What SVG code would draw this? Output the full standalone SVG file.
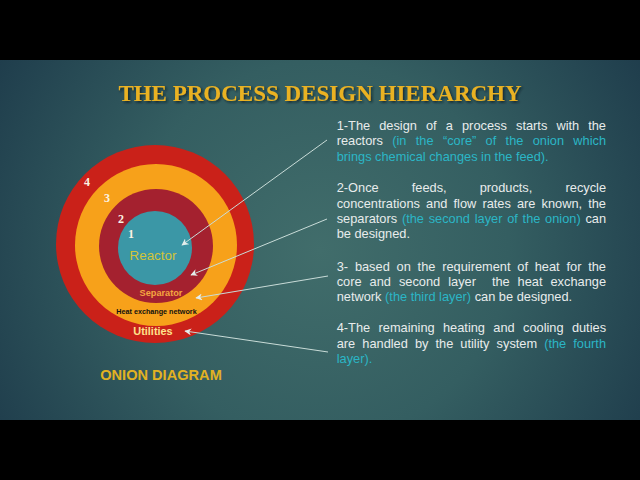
<svg xmlns="http://www.w3.org/2000/svg" width="640" height="480" viewBox="0 0 640 480">
<defs>
<radialGradient id="bg" gradientUnits="userSpaceOnUse" cx="320" cy="250" r="420">
<stop offset="0" stop-color="#416d6b"/>
<stop offset="0.45" stop-color="#345e61"/>
<stop offset="1" stop-color="#1a3547"/>
</radialGradient>
<filter id="sh" x="-5%" y="-20%" width="110%" height="150%">
<feDropShadow dx="1.5" dy="1.5" stdDeviation="0.8" flood-color="#0a1a20" flood-opacity="0.8"/>
</filter>
<marker id="ah" viewBox="0 0 10 10" refX="9" refY="5" markerWidth="7" markerHeight="7" orient="auto" markerUnits="userSpaceOnUse">
<path d="M0,0 L10,5 L0,10 L3,5 Z" fill="#e4eeec"/>
</marker>
</defs>
<style>
.t{font-family:"Liberation Sans",Arial,sans-serif;font-size:12.8px;fill:#e8ecec}
.c{fill:#2bb6c6}
.num{font-family:"Liberation Serif","Times New Roman",serif;font-weight:bold;font-size:12px;fill:#fbf3e4}
.conn{stroke:#c9dcd8;stroke-width:1;fill:none;marker-end:url(#ah)}
</style>
<rect x="0" y="0" width="640" height="480" fill="#000"/>
<rect x="0" y="60" width="640" height="360" fill="url(#bg)"/>

<text x="320" y="101" text-anchor="middle" font-family="Liberation Serif,'Times New Roman',serif" font-weight="bold" font-size="23" fill="#eab224" filter="url(#sh)">THE PROCESS DESIGN HIERARCHY</text>

<g id="onion">
<g id="layer4"><circle cx="155" cy="244" r="99" fill="#ca2119"/></g>
<g id="layer3"><circle cx="156" cy="245" r="81" fill="#f7a11a"/></g>
<g id="layer2"><circle cx="156" cy="246" r="57" fill="#a4212f"/></g>
<g id="layer1"><circle cx="155" cy="248" r="37" fill="#3b97a6"/></g>
<text class="num" x="87" y="185.5" text-anchor="middle">4</text>
<text class="num" x="107" y="202" text-anchor="middle">3</text>
<text class="num" x="121" y="223" text-anchor="middle">2</text>
<text class="num" x="131" y="238" text-anchor="middle">1</text>
<text x="153" y="259.5" text-anchor="middle" font-family="Liberation Sans,Arial,sans-serif" font-size="13.4" fill="#d2c43a">Reactor</text>
<text x="161" y="296" text-anchor="middle" font-family="Liberation Sans,Arial,sans-serif" font-weight="bold" font-size="9.2" fill="#f4a640">Separator</text>
<text x="156.5" y="313.5" text-anchor="middle" font-family="Liberation Sans,Arial,sans-serif" font-weight="bold" font-size="7.2" fill="#111">Heat exchange network</text>
<text x="153" y="335" text-anchor="middle" font-family="Liberation Sans,Arial,sans-serif" font-weight="bold" font-size="10.9" fill="#ffe38c">Utilities</text>
</g>

<text x="161" y="380" text-anchor="middle" font-family="Liberation Sans,Arial,sans-serif" font-weight="bold" font-size="14.6" fill="#e2b222">ONION DIAGRAM</text>

<g id="connectors">
<line class="conn" x1="327" y1="140" x2="182" y2="245"/>
<line class="conn" x1="327" y1="219" x2="191" y2="275"/>
<line class="conn" x1="328" y1="276" x2="196" y2="298"/>
<line class="conn" x1="328" y1="352" x2="185" y2="331"/>
</g>

<g id="text1">
<text class="t" y="129.5"><tspan x="336.7">1-The</tspan><tspan x="379.2">design</tspan><tspan x="426.0">of</tspan><tspan x="445.8">a</tspan><tspan x="462.0">process</tspan><tspan x="516.0">starts</tspan><tspan x="556.4">with</tspan><tspan x="588.2">the</tspan></text>
<text class="t" y="145"><tspan x="336.7">reactors</tspan><tspan class="c" x="392.2">(in</tspan><tspan class="c" x="415.8">the</tspan><tspan class="c" x="442.9">“core”</tspan><tspan class="c" x="485.6">of</tspan><tspan class="c" x="505.6">the</tspan><tspan class="c" x="532.7">onion</tspan><tspan class="c" x="573.3">which</tspan></text>
<text class="t c" x="336.7" y="160.5">brings chemical changes in the feed).</text>
</g>

<g id="text2">
<text class="t" y="192"><tspan x="336.7">2-Once</tspan><tspan x="411.8">feeds,</tspan><tspan x="479.7">products,</tspan><tspan x="565.5">recycle</tspan></text>
<text class="t" y="207.5"><tspan x="336.7">concentrations</tspan><tspan x="426.1">and</tspan><tspan x="453.5">flow</tspan><tspan x="482.4">rates</tspan><tspan x="516.9">are</tspan><tspan x="541.6">known,</tspan><tspan x="588.2">the</tspan></text>
<text class="t" y="223"><tspan x="336.7">separators</tspan><tspan class="c" x="401.9">(the</tspan><tspan class="c" x="428.7">second</tspan><tspan class="c" x="474.7">layer</tspan><tspan class="c" x="507.2">of</tspan><tspan class="c" x="522.6">the</tspan><tspan class="c" x="545.1">onion)</tspan><tspan x="585.4">can</tspan></text>
<text class="t" x="336.7" y="238.3">be designed.</text>
</g>

<g id="text3">
<text class="t" y="270.5"><tspan x="336.7">3-</tspan><tspan x="354.9">based</tspan><tspan x="396.6">on</tspan><tspan x="417.6">the</tspan><tspan x="442.2">requirement</tspan><tspan x="517.3">of</tspan><tspan x="534.7">heat</tspan><tspan x="566.5">for</tspan><tspan x="588.2">the</tspan></text>
<text class="t" y="285.8"><tspan x="336.7">core</tspan><tspan x="369.6">and</tspan><tspan x="398.9">second</tspan><tspan x="448.2">layer</tspan><tspan x="491.9">the</tspan><tspan x="517.6">heat</tspan><tspan x="550.5">exchange</tspan></text>
<text class="t" x="336.7" y="301">network <tspan class="c">(the third layer)</tspan> can be designed.</text>
</g>

<g id="text4">
<text class="t" y="332.3"><tspan x="336.7">4-The</tspan><tspan x="378.5">remaining</tspan><tspan x="443.0">heating</tspan><tspan x="493.3">and</tspan><tspan x="523.0">cooling</tspan><tspan x="571.9">duties</tspan></text>
<text class="t" y="347.7"><tspan x="336.7">are</tspan><tspan x="362.3">handled</tspan><tspan x="414.9">by</tspan><tspan x="435.5">the</tspan><tspan x="460.3">utility</tspan><tspan x="496.6">system</tspan><tspan class="c" x="544.2">(the</tspan><tspan class="c" x="573.3">fourth</tspan></text>
<text class="t c" x="336.7" y="363">layer).</text>
</g>
</svg>
